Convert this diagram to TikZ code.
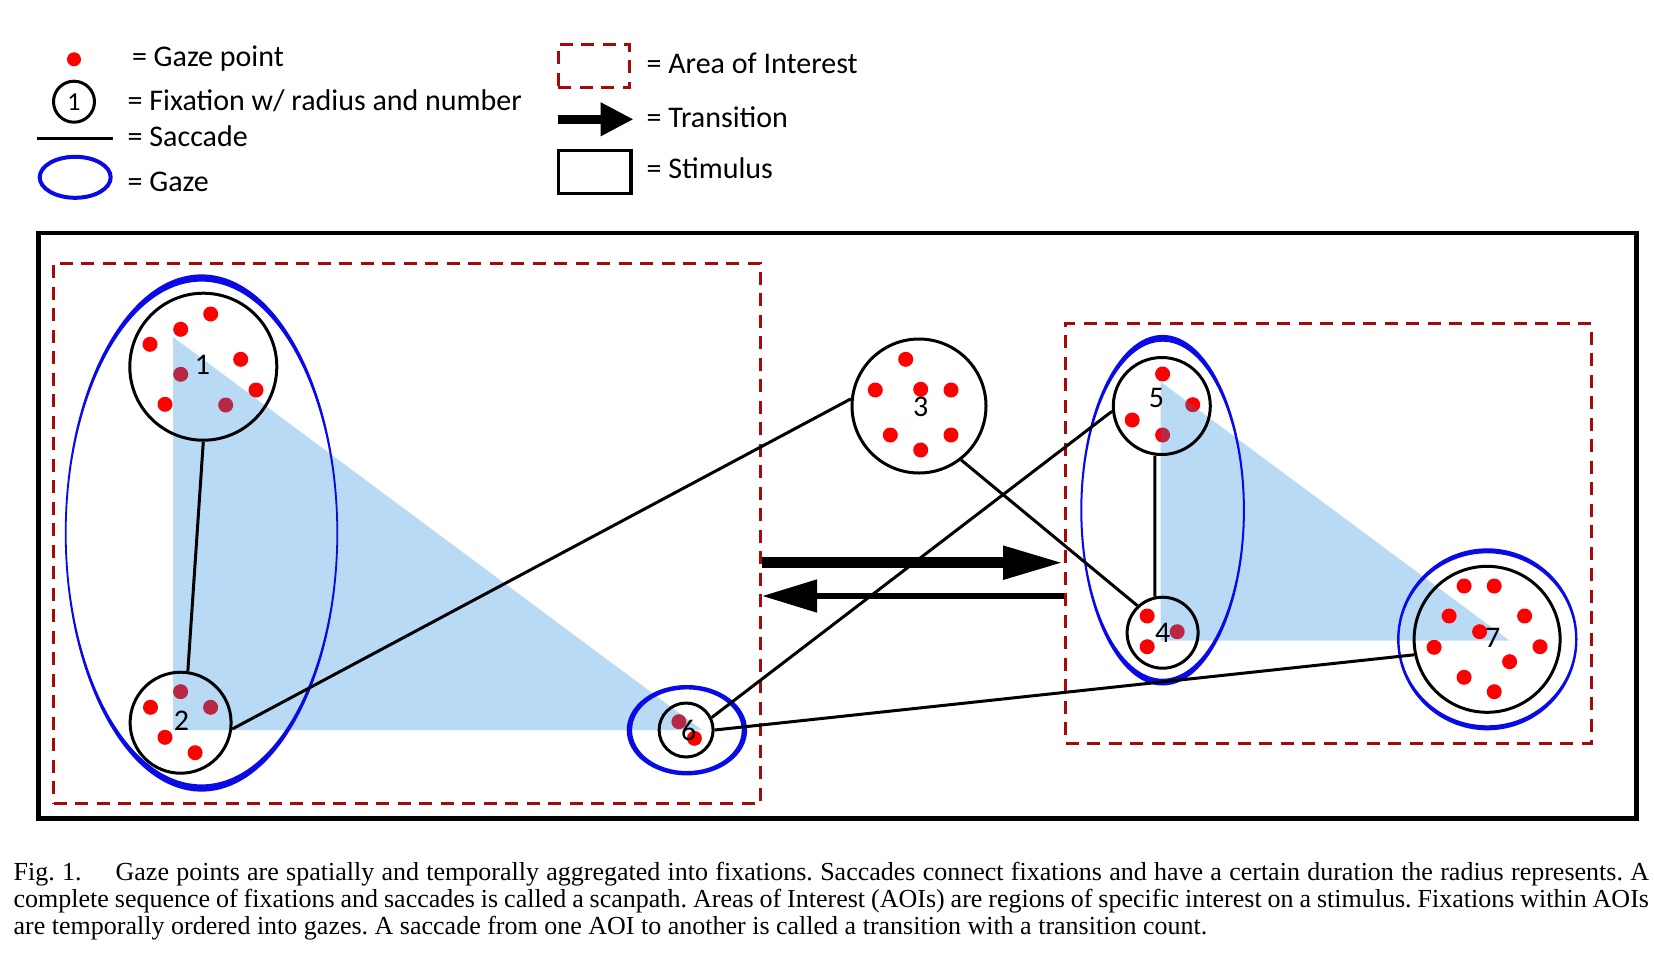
\documentclass[tikz,border=0pt]{standalone}
\usepackage{fontspec}
\setmainfont{Liberation Serif}
\newfontfamily\calfont{Carlito}
\usetikzlibrary{arrows.meta}
\definecolor{gzred}{RGB}{255,0,0}
\definecolor{aoired}{RGB}{165,10,10}
\definecolor{gzblue}{RGB}{10,10,230}
\definecolor{triblue}{RGB}{23,132,222}
\newcommand\gazept[1]{\fill[gzred] (#1) circle[radius=7.5];}
\newcommand\gazering[5]{\fill[gzblue, even odd rule] (#1) ellipse[x radius=#2+#4, y radius=#3+#5] (#1) ellipse[x radius=#2-#4, y radius=#3-#5];}
\begin{document}
\begin{tikzpicture}[x=0.5pt,y=-0.5pt,
  fix/.style={circle, draw=black, line width=1.5pt, inner sep=0pt},
  numlbl/.style={inner sep=0pt, font=\calfont\fontsize{15}{16}\selectfont},
  aoibox/.style={draw=aoired, line width=1.5pt, dash pattern=on 6.5pt off 4.25pt, inner sep=0pt},
  sacc/.style={draw=black, line width=1.5pt},
  legtext/.style={anchor=base west, inner sep=0pt, font=\calfont\fontsize{15}{17}\selectfont},
  trans/.style={draw=black}]
\useasboundingbox (0,0) rectangle (1654,960);

% ---------- legend ----------
\fill[gzred] (74,59.3) circle[radius=7];
\node[legtext] (tgp) at (131.6,66.7) {= Gaze point};
\node[fix, minimum size=20.5pt, font=\calfont\fontsize{13}{14}\selectfont] (lfix) at (74,101.7) {1};
\node[legtext] (tfix) at (127.3,110.7) {= Fixation w/ radius and number};
\coordinate (ls1) at (37.3,138.3); \coordinate (ls2) at (112.5,138.3);
\draw[sacc] (ls1) -- (ls2);
\node[legtext] (tsac) at (127.3,146.7) {= Saccade};
\draw[gzblue, line width=2pt] (75.2,177.3) ellipse[x radius=35.5, y radius=20.5];
\node[legtext] (tgaze) at (127.3,191.7) {= Gaze};
\node[aoibox, minimum width=35.65pt, minimum height=21.85pt] (laoi) at (594.05,65.85) {};
\node[legtext] (taoi) at (646.2,73.3) {= Area of Interest};
\coordinate (lt1) at (558.4,119.3); \coordinate (lt2) at (633.6,119.3);
\draw[trans, line width=4.5pt, -{Triangle[length=16.5pt,width=15.8pt]}] (lt1) -- (lt2);
\node[legtext] (ttr) at (646.2,127.3) {= Transition};
\node[draw, line width=1.75pt, minimum width=36.2pt, minimum height=21.3pt, inner sep=0pt] (lstim) at (594.6,172) {};
\node[legtext] (tstim) at (646.2,178.3) {= Stimulus};

% ---------- stimulus and AOIs ----------
\node[draw, line width=2.35pt, minimum width=799pt, minimum height=292.65pt, inner sep=0pt] (stim) at (837.4,525.65) {};
\node[aoibox, minimum width=353.5pt, minimum height=270.15pt] (aoi1) at (407,533.15) {};
\node[aoibox, minimum width=262.9pt, minimum height=210pt] (aoi2) at (1328.4,533.3) {};

% ---------- gaze points (under the overlay) ----------
% fixation 1
\gazept{210.7,314} \gazept{180.7,329.3} \gazept{150,344.3} \gazept{240.7,359.3}
\gazept{180.7,374.3} \gazept{256,390} \gazept{165,404.3} \gazept{225.7,405}
% fixation 2
\gazept{180.6,691.7} \gazept{150.5,707.3} \gazept{210.6,707.3} \gazept{165,737.3} \gazept{195.1,752.7}
% fixation 3
\gazept{905.7,359.3} \gazept{875.3,390} \gazept{920.7,389.3} \gazept{951,390}
\gazept{890.3,435} \gazept{920.7,450} \gazept{951,435}
% fixation 4
\gazept{1147.2,616} \gazept{1147.2,646.7} \gazept{1177.2,631.7}
% fixation 5
\gazept{1162.6,374} \gazept{1192.7,404.7} \gazept{1132.2,420} \gazept{1162.6,435}
% fixation 6
\gazept{678.9,721.7} \gazept{694.4,738.3}

% ---------- triangles ----------
\fill[triblue, fill opacity=0.3] (173,337) -- (173,730) -- (702,730) -- cycle;
\fill[triblue, fill opacity=0.3] (1160.5,381.7) -- (1160.5,640.7) -- (1509.6,640.7) -- cycle;

% fixation 7 points (on top)
\gazept{1464.1,586} \gazept{1494.2,586} \gazept{1449.1,616} \gazept{1524.6,616}
\gazept{1479.6,631.7} \gazept{1434.1,647.3} \gazept{1540,646.7} \gazept{1509.6,661.7}
\gazept{1464.1,677.3} \gazept{1494.2,691.7}

% ---------- gazes ----------
\coordinate (g1) at (201.5,533);
\coordinate (g45) at (1162.6,510.2);
\coordinate (g7) at (1487.3,639.3);
\coordinate (g6) at (686.9,730.2);
\gazering{g1}{135.8}{255}{0.9}{3.6}
\gazering{g45}{81.3}{171.9}{1}{3.4}
\gazering{g7}{89}{88.5}{1.2}{2.5}
\gazering{g6}{57.5}{43}{2.7}{2.2}

% ---------- fixations ----------
\node[fix, minimum size=73.5pt] (f1) at (203.3,366.7) {};
\node[fix, minimum size=50.5pt] (f2) at (180.6,722.7) {};
\node[fix, minimum size=67pt] (f3) at (919,406) {};
\node[fix, minimum size=35.5pt] (f4) at (1162.6,632.7) {};
\node[fix, minimum size=48.5pt] (f5) at (1161.8,406) {};
\node[fix, minimum size=27pt] (f6) at (686.1,730) {};
\node[fix, minimum size=73pt] (f7) at (1487.1,639.3) {};
\node[numlbl] (n1) at (202.5,364.5) {1};
\node[numlbl] (n2) at (181.5,720.7) {2};
\node[numlbl] (n3) at (920.7,407.3) {3};
\node[numlbl] (n4) at (1162.6,633.3) {4};
\node[numlbl] (n5) at (1156.4,398.3) {5};
\node[numlbl] (n6) at (688.6,730) {6};
\node[numlbl] (n7) at (1492.7,638.3) {7};

% ---------- saccades ----------
\draw[sacc] (f1.-90) -- (f2.82);
\draw[sacc] (f2.-7) -- (f3.174);
\draw[sacc] (f3.-52) -- (f4.133);
\draw[sacc] (f4.102) -- (f5.-98);
\draw[sacc] (f5.186) -- (f6.26);
\draw[sacc] (f6.0) -- (f7.192);

% ---------- transitions ----------
\coordinate (ta) at (0,562.7);
\coordinate (tb) at (0,596);
\draw[trans, line width=5.5pt, -{Triangle[length=30.5pt,width=15.5pt]}] (aoi1.east |- ta) -- (aoi2.west |- ta);
\draw[trans, line width=3.35pt, -{Triangle[length=27.5pt,width=15.7pt]}] (aoi2.west |- tb) -- (aoi1.east |- tb);

% ---------- caption ----------
\node[anchor=base west, inner sep=0pt, text width=817.6pt, align=justify,
      font=\fontsize{13}{13.4}\selectfont] (cap) at (13.3,880.5)
 {\frenchspacing\noindent Fig.~1.\hspace{17pt}Gaze points are spatially and temporally aggregated into fixations. Saccades connect fixations and have a certain duration the radius represents. A\linebreak complete sequence of fixations and saccades is called a scanpath. Areas of Interest (AOIs) are regions of specific interest on a stimulus. Fixations within AOIs\linebreak are temporally ordered into gazes. A saccade from one AOI to another is called a transition with a transition count.};
\end{tikzpicture}
\end{document}
